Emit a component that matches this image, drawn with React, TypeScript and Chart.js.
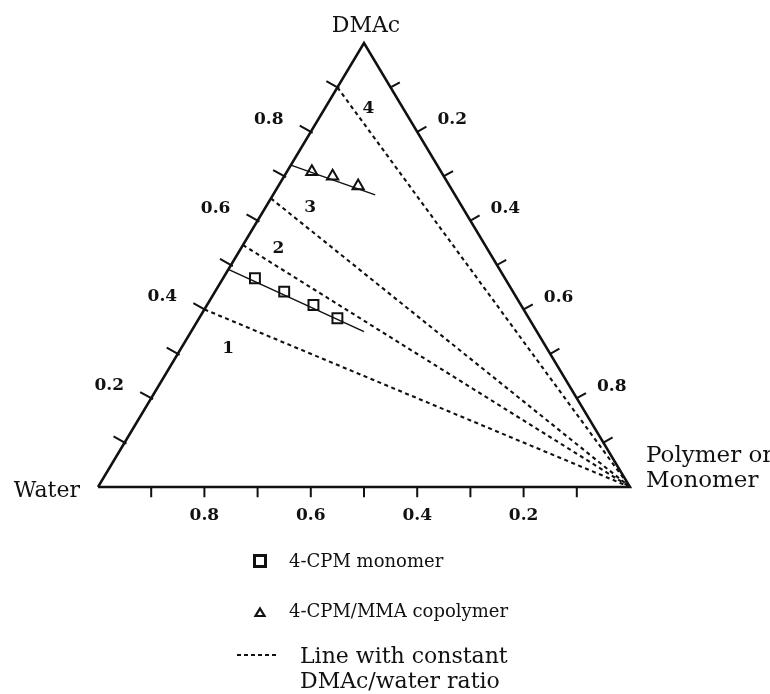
import React, { useEffect, useRef } from 'react';
import { Chart, registerables } from 'chart.js';

Chart.register(...registerables);

const H = Math.sqrt(3) / 2;

// Compositions are given as [polymer fraction, DMAc fraction]; water = 1 - both
const monomerPolymer = [0.06, 0.13, 0.2, 0.26];
const monomerDMAc = [0.47, 0.44, 0.41, 0.38];
const copolymerPolymer = [0.047, 0.091, 0.15];
const copolymerDMAc = [0.71, 0.7, 0.678];
const monomerFitPolymer = [0, 0.325];
const monomerFitDMAc = [0.49, 0.35];
const copolymerFitPolymer = [0, 0.192];
const copolymerFitDMAc = [0.725, 0.658];
// constant DMAc/water ratio lines: start on the water–DMAc edge, end at the polymer vertex
const ratioLineDMAc = [0.4, 0.545, 0.65, 0.9];
const ratioLineLabels = ['1', '2', '3', '4'];
const ratioLabelPolymer = [0.089, 0.07, 0.084, 0.082];
const ratioLabelDMAc = [0.311, 0.538, 0.63, 0.853];
const tickValues = [0.1, 0.2, 0.3, 0.4, 0.5, 0.6, 0.7, 0.8, 0.9];
const labelValues = [0.2, 0.4, 0.6, 0.8];
const labelTexts = ['0.2', '0.4', '0.6', '0.8'];

const toXY = (p: number, d: number) => ({ x: p + d / 2, y: d * H });

const SERIF = '"DejaVu Serif", "Liberation Serif", serif';

export default function App() {
  const ref = useRef<HTMLCanvasElement | null>(null);

  useEffect(() => {
    document.body.style.margin = '0';
    const canvas = ref.current;
    if (!canvas) return;

    const black = '#111';
    const datasets: any[] = [];

    // triangle outline
    datasets.push({
      data: [toXY(0, 0), toXY(1, 0), toXY(0, 1), toXY(0, 0)],
      showLine: true,
      borderColor: black,
      borderWidth: 2.5,
      pointRadius: 0,
      clip: false,
    });

    // ticks
    const tickDs = (a: { x: number; y: number }, b: { x: number; y: number }) => ({
      data: [a, b],
      showLine: true,
      borderColor: black,
      borderWidth: 2,
      pointRadius: 0,
      clip: false,
    });
    tickValues.forEach((t) => {
      // left edge (DMAc axis)
      const l = toXY(0, t);
      const lLen = 0.024;
      datasets.push(
        tickDs(
          { x: l.x + 0.866 * 0.004, y: l.y - 0.5 * 0.004 },
          { x: l.x - 0.866 * lLen, y: l.y + 0.5 * lLen }
        )
      );
      // right edge (polymer axis)
      const r = toXY(t, 1 - t);
      const rLen = 0.02;
      datasets.push(tickDs(r, { x: r.x + 0.866 * rLen, y: r.y + 0.5 * rLen }));
      // bottom edge (water axis)
      const bt = toXY(t, 0);
      datasets.push(tickDs(bt, { x: bt.x, y: bt.y - 0.02 }));
    });

    // constant ratio dashed lines
    ratioLineDMAc.forEach((d) => {
      datasets.push({
        data: [toXY(0, d), toXY(1, 0)],
        showLine: true,
        borderColor: black,
        borderWidth: 2.1,
        borderDash: [4, 3.5],
        pointRadius: 0,
        clip: false,
      });
    });

    // fit lines
    datasets.push({
      data: monomerFitPolymer.map((p, i) => toXY(p, monomerFitDMAc[i])),
      showLine: true,
      borderColor: black,
      borderWidth: 1.5,
      pointRadius: 0,
      clip: false,
    });
    datasets.push({
      data: copolymerFitPolymer.map((p, i) => toXY(p, copolymerFitDMAc[i])),
      showLine: true,
      borderColor: black,
      borderWidth: 1.5,
      pointRadius: 0,
      clip: false,
    });

    // data points
    datasets.push({
      data: monomerPolymer.map((p, i) => toXY(p, monomerDMAc[i])),
      showLine: false,
      pointStyle: 'rect',
      pointRadius: 7,
      pointBackgroundColor: '#fff',
      pointBorderColor: black,
      pointBorderWidth: 2,
      clip: false,
    });
    datasets.push({
      data: copolymerPolymer.map((p, i) => toXY(p, copolymerDMAc[i])),
      showLine: false,
      pointStyle: 'triangle',
      pointRadius: 6.5,
      pointBackgroundColor: '#fff',
      pointBorderColor: black,
      pointBorderWidth: 2,
      clip: false,
    });

    const textPlugin = {
      id: 'ternaryText',
      afterDatasetsDraw(chart: any) {
        const { ctx } = chart;
        const xs = chart.scales.x;
        const ys = chart.scales.y;
        const px = (pt: { x: number; y: number }) => ({
          x: xs.getPixelForValue(pt.x),
          y: ys.getPixelForValue(pt.y),
        });
        ctx.save();
        ctx.fillStyle = black;

        // vertex labels
        ctx.font = `22px ${SERIF}`;
        ctx.textBaseline = 'alphabetic';
        const apex = px(toXY(0, 1));
        ctx.textAlign = 'center';
        ctx.fillText('DMAc', apex.x + 2, apex.y - 11);
        const water = px(toXY(0, 0));
        ctx.textAlign = 'right';
        ctx.fillText('Water', water.x - 18, water.y + 10);
        const poly = px(toXY(1, 0));
        ctx.textAlign = 'left';
        ctx.font = `23px ${SERIF}`;
        ctx.fillText('Polymer or', poly.x + 16, poly.y - 25);
        ctx.fillText('Monomer', poly.x + 16, poly.y);

        // tick labels
        ctx.font = `bold 17px ${SERIF}`;
        ctx.textAlign = 'center';
        ctx.textBaseline = 'middle';
        labelValues.forEach((v, i) => {
          const l = px(toXY(0, v));
          ctx.fillText(labelTexts[i], l.x - 42, l.y - 12.5);
          const r = px(toXY(v, 1 - v));
          ctx.fillText(labelTexts[i], r.x + 35, r.y - 12);
          const b = px(toXY(1 - v, 0));
          ctx.fillText(labelTexts[i], b.x, b.y + 29);
        });

        // ratio line numbers
        ratioLineLabels.forEach((s, i) => {
          const p = px(toXY(ratioLabelPolymer[i], ratioLabelDMAc[i]));
          ctx.fillText(s, p.x, p.y);
        });

        // legend
        const area = chart.chartArea;
        const lx = area.left + 162; // marker x
        const tx = area.left + 191; // text x
        ctx.strokeStyle = black;
        // square marker
        ctx.lineWidth = 3;
        ctx.fillStyle = '#fff';
        ctx.beginPath();
        ctx.rect(lx - 5.5, area.bottom + 68.5, 11, 11);
        ctx.fill();
        ctx.stroke();
        ctx.fillStyle = black;
        ctx.font = `18px ${SERIF}`;
        ctx.textAlign = 'left';
        ctx.textBaseline = 'alphabetic';
        ctx.fillText('4-CPM monomer', tx, area.bottom + 80);
        // triangle marker
        ctx.lineWidth = 2.2;
        ctx.beginPath();
        ctx.moveTo(lx, area.bottom + 121.5);
        ctx.lineTo(lx + 4.5, area.bottom + 129);
        ctx.lineTo(lx - 4.5, area.bottom + 129);
        ctx.closePath();
        ctx.stroke();
        ctx.fillText('4-CPM/MMA copolymer', tx, area.bottom + 130);
        // dashed sample
        ctx.lineWidth = 1.8;
        ctx.setLineDash([4, 3]);
        ctx.beginPath();
        ctx.moveTo(lx - 23, area.bottom + 168);
        ctx.lineTo(lx + 17, area.bottom + 168);
        ctx.stroke();
        ctx.setLineDash([]);
        ctx.font = `22px ${SERIF}`;
        ctx.fillText('Line with constant', area.left + 202, area.bottom + 176);
        ctx.fillText('DMAc/water ratio', area.left + 202, area.bottom + 201);
        ctx.restore();
      },
    };

    const chart = new Chart(canvas, {
      type: 'scatter',
      data: { datasets },
      options: {
        animation: false,
        responsive: false,
        maintainAspectRatio: false,
        layout: { padding: { left: 98, right: 140, top: 43, bottom: 207 } },
        scales: {
          x: { type: 'linear', min: 0, max: 1, display: false },
          y: { type: 'linear', min: 0, max: H, display: false },
        },
        plugins: {
          legend: { display: false },
          tooltip: { enabled: false },
        },
        events: [],
      },
      plugins: [textPlugin],
    });

    return () => chart.destroy();
  }, []);

  return (
    <div style={{ width: 770, height: 694, background: '#fff' }}>
      <canvas ref={ref} width={770} height={694} style={{ display: 'block' }} />
    </div>
  );
}
